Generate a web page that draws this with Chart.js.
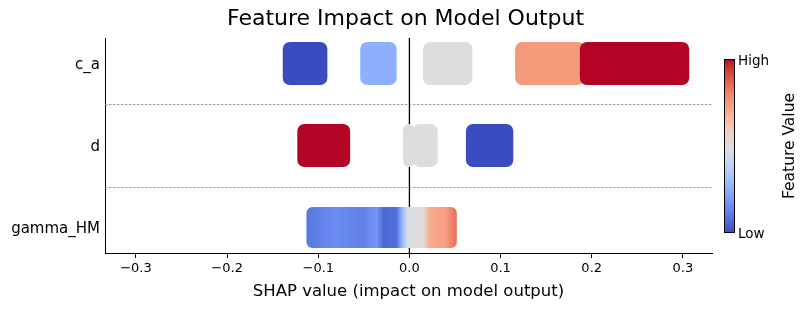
<!DOCTYPE html>
<html>
<head>
<meta charset="utf-8">
<script src="https://cdn.jsdelivr.net/npm/chart.js@4.4.0/dist/chart.umd.min.js"></script>
<style>
  html, body { margin: 0; padding: 0; background: #fff; }
</style>
</head>
<body>
<canvas id="chart" width="811" height="311"></canvas>
<script>
// rows, bottom to top
const features = ["gamma_HM", "d", "c_a"];

// solid clusters (row index, SHAP range, feature value 0=low..1=high)
const clusterRow   = [2, 2, 2, 2, 2, 1, 1, 1, 1];
const clusterStart = [-0.139, -0.054, 0.015, 0.116, 0.187, -0.123, -0.007, 0.004, 0.062];
const clusterEnd   = [-0.090, -0.014, 0.069, 0.192, 0.307, -0.065, 0.006, 0.031, 0.114];
const clusterValue = [0, 0.25, 0.5, 0.75, 1, 1, 0.5, 0.5, 0];

// gamma_HM spread: SHAP position -> feature value along the row
const gammaShap  = [-0.113, -0.08, -0.05, -0.036, -0.028, -0.014, -0.008, -0.002, 0.004, 0.016, 0.022, 0.04, 0.052];
const gammaValue = [0.1, 0.15, 0.12, 0.18, 0.06, 0.08, 0.28, 0.48, 0.5, 0.52, 0.7, 0.74, 0.85];

const xTicks = [-0.3, -0.2, -0.1, 0, 0.1, 0.2, 0.3];
const yTicks = [0, 1, 2];

// matplotlib coolwarm
const coolwarm = [[59,76,192],[68,90,204],[77,104,215],[87,117,225],[98,130,234],[108,142,241],[119,154,247],[130,165,251],[141,176,254],[152,185,255],[163,194,255],[174,201,253],[184,208,249],[194,213,244],[204,217,238],[213,219,230],[221,221,221],[229,216,209],[236,211,197],[241,204,184],[245,196,172],[247,187,159],[247,177,147],[247,166,134],[244,154,123],[241,141,111],[236,127,99],[229,112,89],[222,96,77],[213,80,67],[203,62,56],[192,40,47],[180,4,38]];

function cmap(t){
    t = Math.max(0, Math.min(1, t));
    const p = t * 32;
    const i = Math.min(31, Math.floor(p));
    const f = p - i;
    const c = coolwarm[i].map((v, k) => Math.round(v + (coolwarm[i + 1][k] - v) * f));
    return `rgb(${c[0]}, ${c[1]}, ${c[2]})`;
}

const FONT = "DejaVu Sans";
Chart.defaults.font.family = FONT;
Chart.defaults.color = "#000";

const clusterData = clusterRow.map((r, i) => ({ x: [clusterStart[i], clusterEnd[i]], y: r }));
const gammaData = [{ x: [gammaShap[0], gammaShap[gammaShap.length - 1]], y: 0 }];

function gammaFill(ctx){
    const chart = ctx.chart;
    const xs = chart.scales.x;
    if (!chart.chartArea || !xs) return cmap(0.3);
    const lo = gammaShap[0], hi = gammaShap[gammaShap.length - 1];
    const g = chart.ctx.createLinearGradient(xs.getPixelForValue(lo), 0, xs.getPixelForValue(hi), 0);
    gammaShap.forEach((s, i) => g.addColorStop((s - lo) / (hi - lo), cmap(gammaValue[i])));
    return g;
}

const decor = {
    id: "decor",
    beforeDatasetsDraw(chart){
        const { ctx, chartArea: a, scales: { x, y } } = chart;
        ctx.save();
        // row separators
        ctx.strokeStyle = "#888";
        ctx.lineWidth = 0.8;
        ctx.setLineDash([2.5, 1.5]);
        [0.5, 1.5].forEach(v => {
            const py = Math.round(y.getPixelForValue(v)) + 0.5;
            ctx.beginPath(); ctx.moveTo(a.left, py); ctx.lineTo(a.right, py); ctx.stroke();
        });
        // zero line
        ctx.setLineDash([]);
        ctx.strokeStyle = "#000";
        ctx.lineWidth = 1.3;
        const px = x.getPixelForValue(0);
        ctx.beginPath(); ctx.moveTo(px, a.top); ctx.lineTo(px, a.bottom); ctx.stroke();
        ctx.restore();
    },
    afterDraw(chart){
        const { ctx, width } = chart;
        ctx.save();
        // title
        ctx.fillStyle = "#000";
        ctx.font = `22px '${FONT}'`;
        ctx.textAlign = "center";
        ctx.textBaseline = "middle";
        ctx.fillText("Feature Impact on Model Output", width / 2, 19);

        // colorbar
        const cx = 724, cy = 59, cw = 11, ch = 174;
        const g = ctx.createLinearGradient(0, cy + ch, 0, cy);
        for (let i = 0; i <= 32; i++) g.addColorStop(i / 32, cmap(i / 32));
        ctx.fillStyle = g;
        ctx.fillRect(cx, cy, cw, ch);
        ctx.strokeStyle = "#000";
        ctx.lineWidth = 1;
        ctx.strokeRect(cx + 0.5, cy + 0.5, cw - 1, ch - 1);

        ctx.fillStyle = "#000";
        ctx.font = `13.5px '${FONT}'`;
        ctx.textAlign = "left";
        ctx.fillText("High", cx + cw + 3, cy + 2);
        ctx.fillText("Low", cx + cw + 3, cy + ch + 1);

        ctx.font = `15.5px '${FONT}'`;
        ctx.translate(790, cy + ch / 2);
        ctx.rotate(-Math.PI / 2);
        ctx.textAlign = "center";
        ctx.fillText("Feature Value", 0, 0);
        ctx.restore();
    }
};

new Chart(document.getElementById("chart"), {
    type: "bar",
    data: {
        datasets: [
            {
                data: clusterData,
                backgroundColor: clusterValue.map(v => cmap(v)),
                borderWidth: 0,
                borderSkipped: false,
                borderRadius: 7,
                grouped: false,
                maxBarThickness: 43
            },
            {
                data: gammaData,
                backgroundColor: gammaFill,
                borderWidth: 0,
                borderSkipped: false,
                borderRadius: 6,
                grouped: false,
                maxBarThickness: 41
            }
        ]
    },
    options: {
        indexAxis: "y",
        responsive: false,
        animation: false,
        devicePixelRatio: 1,
        layout: { padding: { top: 38, right: 99, left: 0, bottom: 0 } },
        plugins: {
            legend: { display: false },
            tooltip: { enabled: false },
            title: { display: false }
        },
        scales: {
            x: {
                type: "linear",
                min: -0.334,
                max: 0.332,
                afterBuildTicks: axis => { axis.ticks = xTicks.map(v => ({ value: v })); },
                afterFit: s => { s.height = 58; },
                grid: { drawOnChartArea: false, drawTicks: true, tickLength: 5, tickColor: "#000" },
                border: { color: "#000", width: 1 },
                ticks: {
                    font: { size: 13 },
                    padding: 3,
                    maxRotation: 0,
                    callback: v => (v < 0 ? "\u2212" : "") + Math.abs(v).toFixed(1)
                },
                title: {
                    display: true,
                    text: "SHAP value (impact on model output)",
                    font: { size: 16.5 },
                    padding: { top: 0, bottom: 9 }
                }
            },
            y: {
                type: "linear",
                offset: false,
                min: -0.31,
                max: 2.31,
                afterBuildTicks: axis => { axis.ticks = yTicks.map(v => ({ value: v })); },
                afterFit: s => { s.width = 105; },
                grid: { display: false, drawTicks: false },
                border: { color: "#000", width: 1 },
                ticks: {
                    font: { size: 15 },
                    padding: 5,
                    labelOffset: 2,
                    callback: v => features[v]
                }
            }
        }
    },
    plugins: [decor]
});
</script>
</body>
</html>
